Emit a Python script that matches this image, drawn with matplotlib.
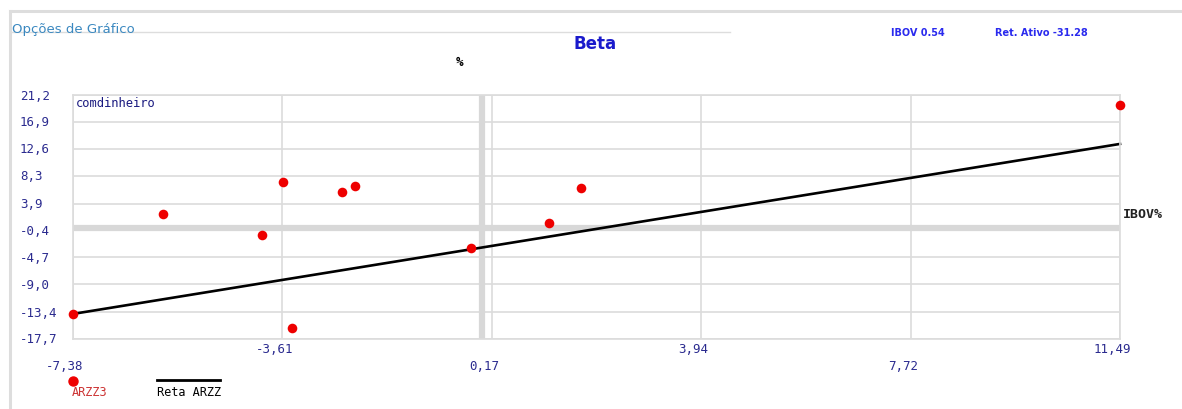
import matplotlib.pyplot as plt
from matplotlib.lines import Line2D
import matplotlib.transforms as mtransforms

# dados (IBOV% x ARZZ3%)
ibov = [-7.38, -5.76, -3.97, -3.60, -3.44, -2.54, -2.29, -0.21, 1.19, 1.77, 11.49]
ativo = [-13.71, 2.23, -1.06, 7.28, -15.99, 5.69, 6.64, -3.24, 0.79, 6.37, 19.61]

# reta de regressao (extremos)
reta_x = [-7.38, 11.49]
reta_y = [-13.7, 13.4]

x_ticks = [-7.38, -3.61, 0.17, 3.94, 7.72, 11.49]
y_ticks = [21.2, 16.9, 12.6, 8.3, 3.9, -0.4, -4.7, -9.0, -13.4, -17.7]

W, H = 1182, 410
fig = plt.figure(figsize=(W / 100, H / 100), dpi=100)
ax = fig.add_axes([73 / W, (H - 340) / H, (1120 - 73) / W, (340 - 96) / H])

grid_c = '#dcdcdc'
lab_c = '#2b2b8f'
mono = 'DejaVu Sans Mono'

ax.set_xlim(x_ticks[0], x_ticks[-1])
ax.set_ylim(y_ticks[-1], y_ticks[0])

for v in x_ticks:
    ax.axvline(v, color=grid_c, lw=1.2, zorder=0)
for v in y_ticks:
    ax.axhline(v, color=grid_c, lw=1.2, zorder=0)
ax.axhline(0, color='#d8d8d8', lw=4.5, zorder=0)
ax.axvline(0, color='#d8d8d8', lw=4.5, zorder=0)

for s in ax.spines.values():
    s.set_color(grid_c)
    s.set_linewidth(1.2)
ax.set_xticks([])
ax.set_yticks([])

ax.plot(reta_x, reta_y, color='black', lw=1.9, zorder=2, clip_on=False)
ax.scatter(ibov, ativo, s=48, color='#ee0000', zorder=3, clip_on=False, linewidths=0)

# rotulos dos eixos
ytrans = mtransforms.blended_transform_factory(fig.transFigure, ax.transData)
for v in y_ticks:
    ax.text(20 / W, v, f'{v:.1f}'.replace('.', ','), transform=ytrans, ha='left', va='center',
            fontsize=9, family=mono, color=lab_c)

xtrans = mtransforms.blended_transform_factory(ax.transData, fig.transFigure)
off = mtransforms.ScaledTranslation(-8 / 100, 0, fig.dpi_scale_trans)
for i, v in enumerate(x_ticks):
    yy = (H - 367) / H if i % 2 == 0 else (H - 350) / H
    ax.text(v, yy, f'{v:.2f}'.replace('.', ','), transform=xtrans + off, ha='center', va='center',
            fontsize=9, family=mono, color=lab_c)

ax.text(0.003, 0.97, 'comdinheiro', transform=ax.transAxes, ha='left', va='center',
        fontsize=8.7, family=mono, color='#1a1a80')

# textos de cabecalho
fig.text(595 / W, 1 - 44 / H, 'Beta', ha='center', va='center', fontsize=12,
         fontweight='bold', color='#1a1acc')
fig.text(460 / W, 1 - 63 / H, '%', ha='center', va='center', fontsize=9,
         fontweight='bold', color='black', family=mono)
fig.text(891 / W, 1 - 33 / H, 'IBOV 0.54', ha='left', va='center', fontsize=7,
         fontweight='bold', color='#2a2aee')
fig.text(995 / W, 1 - 33 / H, 'Ret. Ativo -31.28', ha='left', va='center', fontsize=7,
         fontweight='bold', color='#2a2aee')
fig.text(1123 / W, 1 - 215 / H, 'IBOV%', ha='left', va='center', fontsize=9.5,
         fontweight='bold', color='#222222', family=mono)
fig.text(12 / W, 1 - 29 / H, 'Opções de Gráfico', ha='left', va='center', fontsize=9.5,
         color='#3a88c0')

# moldura da pagina
fig.add_artist(Line2D([10 / W, 1], [1 - 12 / H, 1 - 12 / H], color='#dddddd', lw=2.2))
fig.add_artist(Line2D([10 / W, 10 / W], [0, 1 - 12 / H], color='#dddddd', lw=2.2))
fig.add_artist(Line2D([12 / W, 730 / W], [1 - 32.5 / H, 1 - 32.5 / H], color='#dddddd', lw=1))

# legenda
fig.add_artist(Line2D([73 / W], [1 - 382 / H], marker='o', markersize=6.5, color='#ee0000', lw=0))
fig.text(72 / W, 1 - 393 / H, 'ARZZ3', ha='left', va='center', fontsize=8.6, family=mono,
         color='#cc3333')
fig.add_artist(Line2D([157 / W, 220 / W], [1 - 381 / H, 1 - 381 / H], color='black', lw=2))
fig.text(157 / W, 1 - 393 / H, 'Reta ARZZ', ha='left', va='center', fontsize=8.6, family=mono,
         color='black')

fig.savefig('out.png', dpi=100)
